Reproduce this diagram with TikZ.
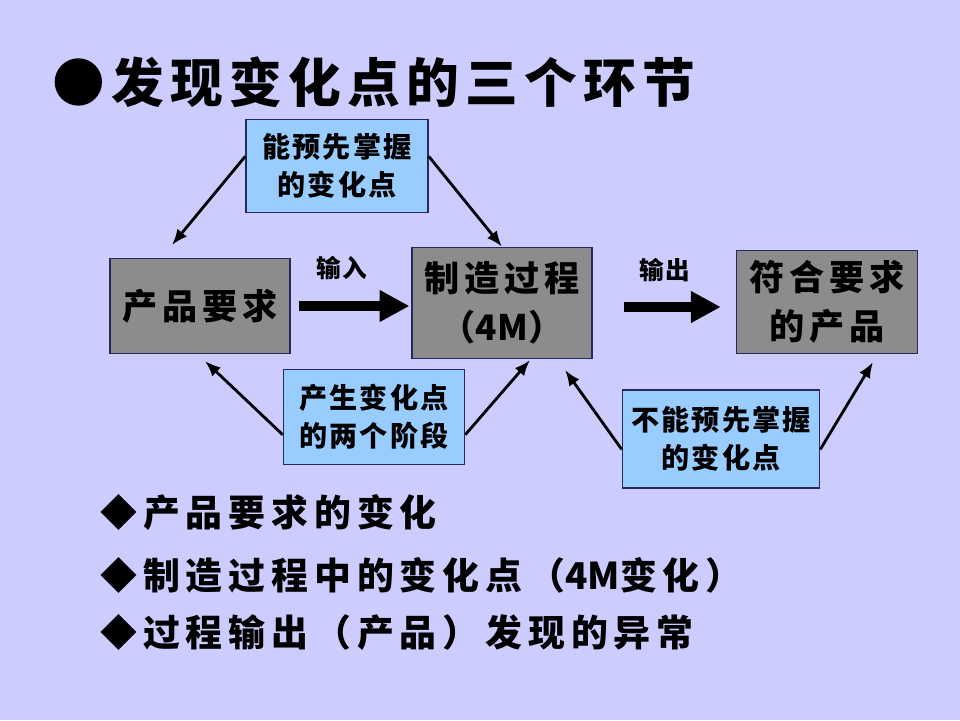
\documentclass[tikz,border=0pt]{standalone}
\usepackage{fontspec}
\newfontfamily\cjk{Noto Sans CJK SC}
\usetikzlibrary{arrows.meta,calc}
\definecolor{slidebg}{RGB}{204,204,255}
\definecolor{boxgray}{RGB}{140,140,140}
\definecolor{boxblue}{RGB}{153,204,255}
\definecolor{boxline}{RGB}{40,40,90}
\tikzset{graybox/.style = {draw=boxline, fill=boxgray, line width=0.9pt, align=center,
    font=\cjk\bfseries\fontsize{20}{28}\selectfont\addfontfeature{LetterSpace=14}}}
\tikzset{bluebox/.style = {draw=boxline, fill=boxblue, line width=0.9pt, align=center,
    font=\cjk\bfseries\fontsize{16}{21.5}\selectfont\addfontfeature{LetterSpace=8}}}
\tikzset{edge/.style = {-{Latex[length=9pt,width=7pt]}, line width=1.6pt}}
\tikzset{bigarrow/.style = {-{Triangle[length=17pt,width=17pt]}, line width=6.2pt}}
\tikzset{lbl/.style = {font=\cjk\bfseries\fontsize{14}{16}\selectfont\addfontfeature{LetterSpace=8}}}
\tikzset{item/.style = {anchor=west, inner sep=0pt,
    font=\cjk\bfseries\fontsize{21}{24}\selectfont\addfontfeature{LetterSpace=16}}}

\begin{document}
\begin{tikzpicture}[x=0.02cm, y=-0.02cm]
                \fill[slidebg] (0,0) rectangle (960,720);
                \useasboundingbox (0,0) rectangle (960,720);
                \node[anchor=west, inner sep=0pt, font=\cjk\bfseries\fontsize{30}{32}\selectfont\addfontfeature{LetterSpace=12}] (title) at (52,82) {●发现变化点的三个环节};
                \node[bluebox, minimum width=3.64cm, minimum height=1.86cm] (know) at (337,166) {能预先掌握\\的变化点};
                \node[graybox, minimum width=3.6cm, minimum height=1.9cm] (req) at (200,306) {产品要求};
                \node[graybox, minimum width=3.6cm, minimum height=2.22cm] (proc) at (502,303) {制造过程\\{\addfontfeature{LetterSpace=0}（4M）}};
                \node[graybox, minimum width=3.62cm, minimum height=2.06cm] (prod) at (827,302) {符合要求\\的产品};
                \node[bluebox, minimum width=3.62cm, minimum height=1.9cm] (stage) at (374,417) {产生变化点\\的两个阶段};
                \node[bluebox, minimum width=3.94cm, minimum height=1.96cm] (unknow) at (721,439) {不能预先掌握\\的变化点};
                \coordinate (reqtop) at (172,245);
                \coordinate (reqbot) at (205,361);
                \coordinate (procbot) at (530,360);
                \coordinate (procbot2) at (565,370);
                \coordinate (prodbot) at (873,362);
                \draw[edge] (know.174) -- (reqtop);
                \draw[edge] (know.6) -- (proc.north);
                \draw[edge] (stage.191) -- (reqbot);
                \draw[edge] (stage.349) -- (procbot);
                \draw[edge] (unknow.186) -- (procbot2);
                \draw[edge] (unknow.354) -- (prodbot);
                \draw[bigarrow, shorten <=4.5pt, shorten >=1pt] (req.east) -- (proc.west |- req.east);
                \draw[bigarrow, shorten <=17.6pt, shorten >=8.5pt] (proc.east |- 0,307) -- (prod.west |- 0,307);
                \node[lbl] (in) at (342,268) {输入};
                \node[lbl] (out) at (665,270) {输出};
                \node[item] (i1) at (100,513) {◆产品要求的变化};
                \node[item] (i2) at (100,575) {◆制造过程中的变化点（{\addfontfeature{LetterSpace=0}4M}变化）};
                \node[item] (i3) at (100,633) {◆过程输出（产品）发现的异常};
\end{tikzpicture}
\end{document}
